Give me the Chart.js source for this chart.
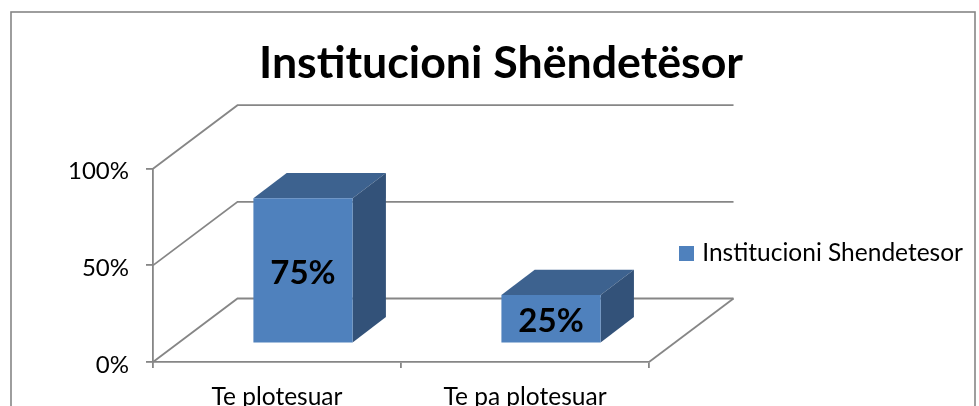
<!DOCTYPE html>
<html><head><meta charset="utf-8">
<style>html,body{margin:0;padding:0;background:#fff;overflow:hidden}canvas{display:block}</style>
<script src="https://cdn.jsdelivr.net/npm/chart.js@4"></script>
</head><body><canvas id="c" width="979" height="406"></canvas>
<script>
const chartTitle = 'Institucioni Shëndetësor';
const seriesName = 'Institucioni Shendetesor';
const categories = ['Te plotesuar', 'Te pa plotesuar'];
const values = [75, 25];
const yTicks = [0, 50, 100];

const FONT = 'Lato, Carlito, Calibri, sans-serif';
const GRID = '#868686';
const FRONT = '#4f81bd', TOP = '#3d628f', SIDE = '#335279';
const WALL_DX = 84.5, WALL_DY = 63.5;
const BAR_SHIFT_X = 26, BAR_SHIFT_Y = 18.7;
const BAR_DX = 33.3, BAR_DY = 25.3;

const plugin3d = {
  id: 'plugin3d',
  afterLayout(chart) {
    const t = chart.titleBlock; t.left = 23; t.right = 979;
    const l = chart.legend;
    l.left = 678; l.right = 979; l.top = 236.25; l.bottom = 285;
  },
  beforeDraw(chart) {
    const c = chart.ctx;
    c.save();
    c.fillStyle = '#fff'; c.fillRect(0, 0, chart.width, chart.height);
    c.strokeStyle = GRID; c.lineWidth = 1.6;
    c.strokeRect(11, 12, 964, 420);
    c.restore();
    chart.scales.y.getLabelItems().forEach(i => { i.options.translation[1] = i.options.translation[1] + 3; });
  },
  beforeDatasetsDraw(chart) {
    const c = chart.ctx, {x, y} = chart.scales;
    c.save();
    c.strokeStyle = GRID; c.lineWidth = 1.8;
    yTicks.forEach(v => {
      const py = y.getPixelForValue(v);
      c.beginPath();
      c.moveTo(x.left, py);
      c.lineTo(x.left + WALL_DX, py - WALL_DY);
      c.lineTo(x.right + WALL_DX, py - WALL_DY);
      c.stroke();
    });
    const py0 = y.getPixelForValue(0);
    c.beginPath();
    c.moveTo(x.right, py0);
    c.lineTo(x.right + WALL_DX, py0 - WALL_DY);
    c.stroke();
    c.restore();
    c.save();
    c.translate(BAR_SHIFT_X, -BAR_SHIFT_Y);
    chart.getDatasetMeta(0).data.forEach(b => {
      const l = b.x - b.width / 2, r = b.x + b.width / 2;
      c.fillStyle = TOP;
      c.beginPath();
      c.moveTo(l, b.y); c.lineTo(l + BAR_DX, b.y - BAR_DY);
      c.lineTo(r + BAR_DX, b.y - BAR_DY); c.lineTo(r, b.y); c.closePath(); c.fill();
      c.fillStyle = SIDE;
      c.beginPath();
      c.moveTo(r, b.y); c.lineTo(r + BAR_DX, b.y - BAR_DY);
      c.lineTo(r + BAR_DX, b.base - BAR_DY); c.lineTo(r, b.base); c.closePath(); c.fill();
    });
    c.restore();
    c.save();
    c.translate(BAR_SHIFT_X, -BAR_SHIFT_Y);
  },
  afterDatasetsDraw(chart) {
    const c = chart.ctx;
    chart.getDatasetMeta(0).data.forEach((b, i) => {
      c.font = 'bold 33px ' + FONT;
      c.fillStyle = '#000';
      c.textAlign = 'center'; c.textBaseline = 'middle';
      c.fillText(values[i] + '%', b.x, (b.y + b.base) / 2 + 3);
    });
    c.restore();
  }
};

new Chart(document.getElementById('c'), {
  type: 'bar',
  plugins: [plugin3d],
  data: {
    labels: categories,
    datasets: [{label: seriesName, data: values, backgroundColor: FRONT, borderWidth: 0,
      categoryPercentage: 0.4, barPercentage: 1}]
  },
  options: {
    responsive: false, animation: false,
    layout: {padding: {left: 23, right: 121.3, top: 0, bottom: 0}},
    plugins: {
      title: {display: true, text: chartTitle, color: '#000',
        font: {family: FONT, size: 44.7, weight: 'bold', lineHeight: 1},
        padding: {top: 41.6, bottom: 82.4}},
      legend: {position: 'right', fullSize: false, align: 'start',
        labels: {color: '#000', font: {family: FONT, size: 24.5}, padding: 5,
          usePointStyle: true, pointStyle: 'rect', boxWidth: 7, boxHeight: 15}},
      tooltip: {enabled: false}
    },
    scales: {
      x: {
        afterFit(s) { s.height = 44; },
        grid: {drawOnChartArea: false, color: GRID, lineWidth: 1.8, tickLength: 6, offset: true},
        border: {color: GRID, width: 1.8},
        ticks: {color: '#000', font: {family: FONT, size: 24.5}, padding: 14, autoSkip: false, maxRotation: 0}
      },
      y: {
        min: 0, max: 100,
        afterFit(s) { s.width = 130; },
        afterBuildTicks(s) { s.ticks = yTicks.map(v => ({value: v})); },
        grid: {drawOnChartArea: false, color: GRID, lineWidth: 1.8, tickLength: 7},
        border: {color: GRID, width: 1.8},
        ticks: {color: '#000', font: {family: FONT, size: 24}, padding: 17, callback: v => v + '%'}
      }
    }
  }
});
</script></body></html>
